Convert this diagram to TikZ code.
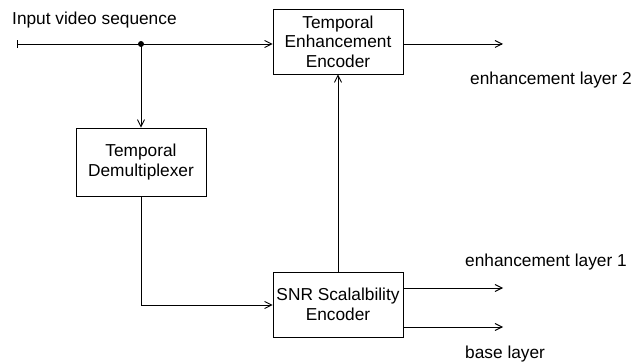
\documentclass[tikz,border=0pt]{standalone}
\usepackage{fontspec}
\setmainfont{Liberation Sans}
\usetikzlibrary{arrows.meta}
\begin{document}
\begin{tikzpicture}[x=1pt,y=-1pt,
  block/.style={draw, line width=0.8pt, minimum width=130pt, minimum height=65pt, align=center, font=\fontsize{17.3}{19.5}\selectfont, inner sep=0pt},
  flow/.style={line width=0.8pt, -{Straight Barb[length=7pt,width=7pt,line width=0.9pt]}},
  lbl/.style={font=\fontsize{17.3}{19.5}\selectfont, inner sep=0pt, anchor=west}]
\useasboundingbox (0,0) rectangle (635,363);
% blocks
\node[block] (tee) at (338,41.5) {Temporal\\Enhancement\\Encoder};
\node[block, minimum height=68pt] (dmx) at (141,162) {Temporal\\Demultiplexer};
\node[block] (snr) at (338,304.5) {SNR Scalalbility\\Encoder};
% input line with split point
\coordinate (in) at (17,44);
\coordinate (split) at (141,44);
\draw[line width=0.8pt] ([yshift=-4pt]in) -- ([yshift=4pt]in);
\draw[line width=0.8pt] (in) -- (split);
\fill (split) circle (3pt);
\draw[flow] (split) -- (tee.west |- split);
\draw[flow] (split) -- (dmx.north);
% demux to SNR
\draw[flow] (dmx.south) |- (snr.west |- 0,305);
% SNR to temporal enhancement
\draw[flow] (snr.north) -- (tee.south);
% outputs
\coordinate (o2) at (503,44);
\coordinate (o1) at (503,288);
\coordinate (o0) at (503,327);
\draw[flow] (tee.east |- o2) -- (o2);
\draw[flow] (snr.east |- o1) -- (o1);
\draw[flow] (snr.east |- o0) -- (o0);
% labels
\node[lbl] (lin) at (12,20) {Input video sequence};
\node[lbl] (l2) at (470,80) {enhancement layer 2};
\node[lbl] (l1) at (465,262) {enhancement layer 1};
\node[lbl] (l0) at (465,354) {base layer};
\end{tikzpicture}
\end{document}
